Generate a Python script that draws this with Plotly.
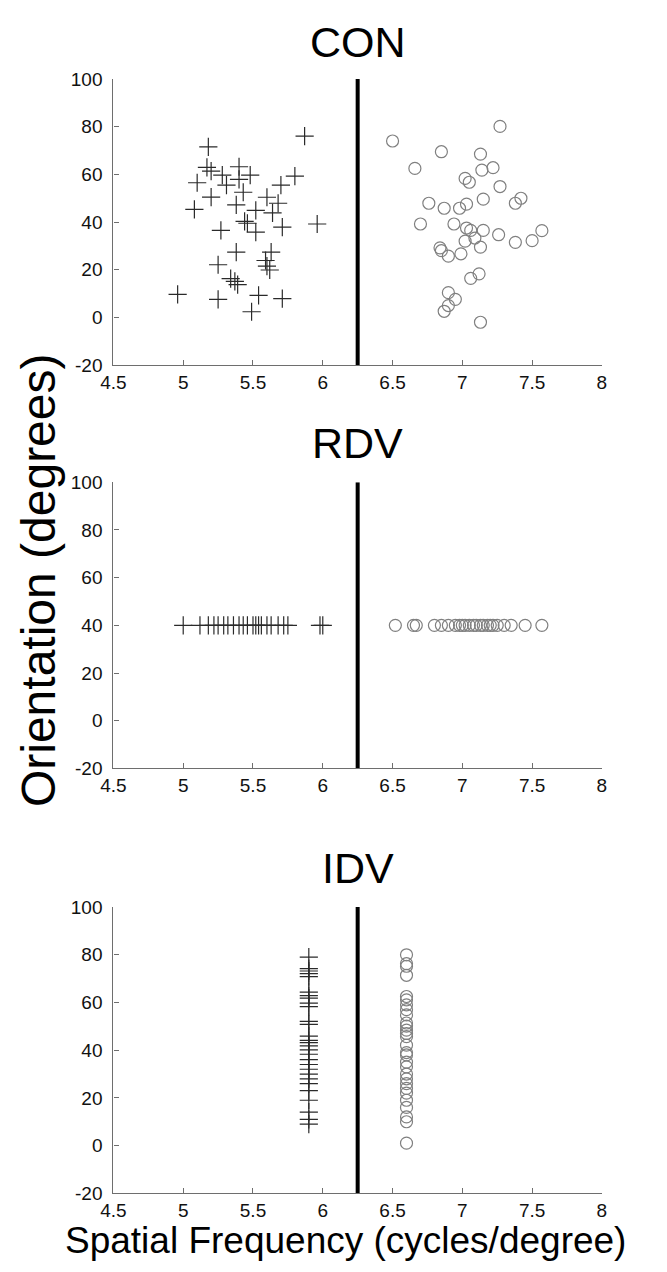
import plotly.graph_objects as go

# ---------------- data ----------------
PANEL_TITLES = ["CON", "RDV", "IDV"]
X_TICKS = [4.5, 5, 5.5, 6, 6.5, 7, 7.5, 8]
X_TICK_TEXT = ["4.5", "5", "5.5", "6", "6.5", "7", "7.5", "8"]
Y_TICKS = [-20, 0, 20, 40, 60, 80, 100]
Y_TICK_TEXT = ["-20", "0", "20", "40", "60", "80", "100"]
X_RANGE = [4.5, 8]
Y_RANGE = [-20, 100]
BOUNDARY_SF = 6.25

# CON: category A (+)
CON_A_SF = [5.87, 5.18, 5.17, 5.20, 5.28, 5.40, 5.48, 5.80, 5.10, 5.31,
            5.40, 5.70, 5.43, 5.20, 5.60, 5.68, 5.38, 5.08, 5.52, 5.64,
            5.44, 5.46, 5.96, 5.71, 5.27, 5.52, 5.38, 5.63, 5.25, 5.59,
            5.60, 5.62, 5.34, 5.37, 5.39, 4.96, 5.25, 5.54, 5.71, 5.49]
CON_A_OR = [76.0, 71.5, 62.9, 61.4, 59.7, 63.2, 59.7, 59.3, 56.5, 55.5,
            57.9, 55.5, 52.5, 50.5, 50.4, 47.9, 47.2, 45.3, 44.9, 43.9,
            40.3, 39.5, 39.2, 37.9, 36.5, 35.8, 27.4, 27.4, 22.1, 23.9,
            21.5, 19.9, 16.3, 15.1, 13.8, 9.7, 7.6, 9.3, 7.9, 2.4]
# CON: category B (o)
CON_B_SF = [7.27, 6.50, 6.85, 7.13, 6.66, 7.14, 7.22, 7.02, 7.05, 7.27,
            6.76, 6.87, 6.98, 7.03, 7.15, 7.38, 7.42, 6.70, 6.94, 7.03,
            7.06, 7.15, 7.26, 7.57, 7.50, 7.38, 7.02, 7.09, 7.13, 6.84,
            6.85, 6.90, 6.99, 7.12, 7.06, 6.90, 6.95, 6.90, 6.87, 7.13]
CON_B_OR = [80.1, 74.0, 69.5, 68.5, 62.5, 61.8, 62.8, 58.3, 56.7, 54.9,
            47.9, 45.8, 45.8, 47.5, 49.6, 47.9, 50.0, 39.2, 39.2, 37.5,
            36.5, 36.5, 34.7, 36.4, 32.2, 31.5, 32.0, 33.3, 29.5, 29.2,
            28.0, 25.7, 26.7, 18.3, 16.4, 10.4, 7.6, 5.0, 2.6, -2.0]

# RDV: orientation fixed, spatial frequency varies
RDV_OR = 40
RDV_A_SF = [5.00, 5.12, 5.18, 5.22, 5.25, 5.29, 5.32, 5.36, 5.40, 5.43,
            5.46, 5.50, 5.52, 5.54, 5.56, 5.60, 5.63, 5.68, 5.72, 5.75,
            5.98, 6.00]
RDV_B_SF = [6.52, 6.65, 6.67, 6.80, 6.85, 6.90, 6.95, 6.98, 7.00, 7.02,
            7.05, 7.08, 7.10, 7.13, 7.15, 7.18, 7.20, 7.22, 7.25, 7.30,
            7.35, 7.45, 7.57]

# IDV: spatial frequency fixed, orientation varies
IDV_A_SF = 5.9
IDV_A_OR = [79, 74.2, 73.2, 72.1, 70.8, 64.3, 62.9, 61.8, 59.7, 58.3,
            52.1, 50.8, 45.9, 44.1, 43.2, 41.8, 40.1, 38.3, 36, 34,
            32, 30, 28, 26, 23, 19, 14, 11, 9]
IDV_B_SF = 6.6
IDV_B_OR = [80, 76.3, 75.2, 71.4, 62.5, 61.1, 59.0, 57.0, 54.8, 51.4,
            50.1, 48.4, 47.0, 45.7, 42.1, 39, 38, 35, 33, 30,
            28, 26, 24, 22, 19, 16, 12, 10, 1]

# ---------------- layout geometry (page pixels) ----------------
W, H = 667, 1272
OFF = 8  # default html body margin
FONT = "Liberation Sans, Arial, Helvetica, sans-serif"
X_PIX = (103, 605)
PANELS_PIX = [(70, 361), (480, 771), (912, 1203)]  # top, bottom
TITLE_Y_PIX = [32, 440, 872]


def py(p):
    return 1 - (p - OFF) / H


def px(p):
    return (p - OFF) / W


fig = go.Figure()

plus_marker = dict(symbol="cross-thin", size=13, color="#2a2a2a",
                   line=dict(width=1.2, color="#2a2a2a"))
circ_marker = dict(symbol="circle-open", size=12, color="#808080",
                   line=dict(width=1.2, color="#808080"))

panel_data = [
    (CON_A_SF, CON_A_OR, CON_B_SF, CON_B_OR),
    (RDV_A_SF, [RDV_OR] * len(RDV_A_SF), RDV_B_SF, [RDV_OR] * len(RDV_B_SF)),
    ([IDV_A_SF] * len(IDV_A_OR), IDV_A_OR, [IDV_B_SF] * len(IDV_B_OR), IDV_B_OR),
]

for i, (ax, ay, bx, by) in enumerate(panel_data):
    n = "" if i == 0 else str(i + 1)
    xa, ya = "x" + n, "y" + n
    fig.add_trace(go.Scatter(x=[BOUNDARY_SF, BOUNDARY_SF], y=[Y_RANGE[0], Y_RANGE[1]],
                             mode="lines", line=dict(color="black", width=4),
                             xaxis=xa, yaxis=ya, showlegend=False, hoverinfo="skip"))
    fig.add_trace(go.Scatter(x=ax, y=ay, mode="markers", marker=plus_marker,
                             xaxis=xa, yaxis=ya, showlegend=False))
    fig.add_trace(go.Scatter(x=bx, y=by, mode="markers", marker=circ_marker,
                             xaxis=xa, yaxis=ya, showlegend=False))

    top, bot = PANELS_PIX[i]
    axis_common = dict(showgrid=False, zeroline=False, showline=True,
                       linecolor="#6e6e6e", linewidth=1.3, ticks="inside",
                       ticklen=5, tickcolor="#6e6e6e", tickwidth=1.2,
                       tickfont=dict(family=FONT, size=19, color="#111"),
                       mirror=False, fixedrange=True)
    fig.update_layout(**{
        "xaxis" + n: dict(domain=[px(X_PIX[0]), px(X_PIX[1])], range=X_RANGE,
                          tickvals=X_TICKS, ticktext=X_TICK_TEXT,
                          anchor=ya, ticklabelstandoff=0, **axis_common),
        "yaxis" + n: dict(domain=[py(bot), py(top)], range=Y_RANGE,
                          tickvals=Y_TICKS, ticktext=Y_TICK_TEXT,
                          anchor=xa, ticklabelstandoff=6, **axis_common),
    })
    fig.add_annotation(text=PANEL_TITLES[i], xref="paper", yref="paper",
                       x=px((X_PIX[0] + X_PIX[1]) / 2), y=py(TITLE_Y_PIX[i]),
                       xanchor="center", yanchor="middle", showarrow=False,
                       font=dict(family=FONT, size=43, color="black"))

fig.add_annotation(text="Orientation (degrees)", xref="paper", yref="paper",
                   x=px(26), y=py(580), xanchor="center", yanchor="middle",
                   textangle=-90, showarrow=False,
                   font=dict(family=FONT, size=48, color="black"))
fig.add_annotation(text="Spatial Frequency (cycles/degree)", xref="paper", yref="paper",
                   x=px(342), y=py(1251), xanchor="center", yanchor="middle",
                   showarrow=False, font=dict(family=FONT, size=37, color="black"))

fig.update_layout(width=W, height=H, margin=dict(l=0, r=0, t=0, b=0),
                  paper_bgcolor="white", plot_bgcolor="white", showlegend=False)

fig.write_html("out.html")
